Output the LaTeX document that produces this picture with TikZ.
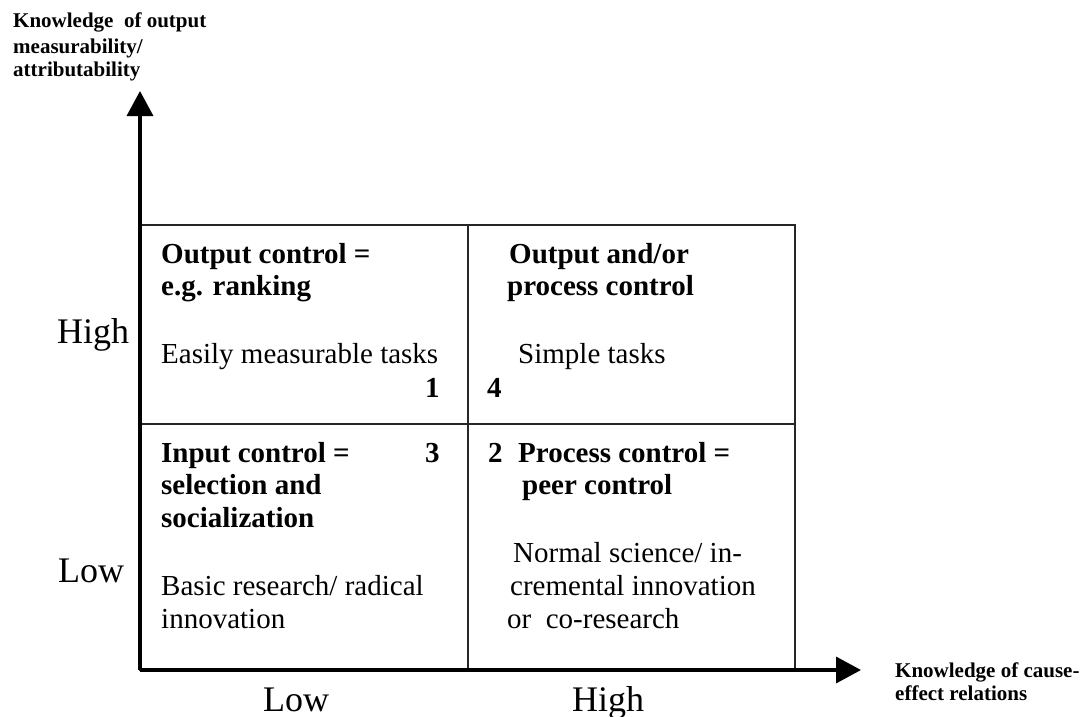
\documentclass[tikz,border=0pt]{standalone}
\usepackage{fontspec}
\setmainfont{Liberation Serif}
\usetikzlibrary{arrows.meta}
\begin{document}
\begin{tikzpicture}[x=1pt,y=-1pt,
  txt/.style={inner sep=0pt,anchor=base west},
  big/.style={txt,font=\fontsize{29}{32}\selectfont},
  bigb/.style={txt,font=\fontsize{29}{32}\selectfont\bfseries},
  axlab/.style={txt,font=\fontsize{36}{40}\selectfont},
  ttl/.style={txt,font=\fontsize{21}{24}\selectfont\bfseries},
  grid/.style={line width=1.3pt,black!85},
  axis/.style={line width=3.5pt,-{Triangle[length=25pt,width=26pt]}}]
\useasboundingbox (0,0) rectangle (1089,717);
% grid
\coordinate (tl) at (140,225);
\coordinate (br) at (795,670);
\coordinate (mt) at (468,225);
\coordinate (mb) at (468,670);
\coordinate (ml) at (140,424);
\coordinate (mr) at (795,424);
\draw[grid] (tl) rectangle (br);
\draw[grid] (mt) -- (mb);
\draw[grid] (ml) -- (mr);
% axes
\coordinate (o) at (140,670);
\coordinate (ytip) at (140,91);
\coordinate (xtip) at (861,670);
\draw[axis] (o) -- (ytip);
\draw[axis] (o) -- (xtip);
% axis titles
\node[ttl] (yt1) at (13,28) {Knowledge\ \ of output};
\node[ttl] (yt2) at (13,53) {measurability/};
\node[ttl] (yt3) at (13,77) {attributability};
\node[ttl] (xt1) at (895,677) {Knowledge of cause-};
\node[ttl] (xt2) at (895,700) {effect relations};
% axis value labels
\node[axlab] (yhigh) at (57,343) {High};
\node[axlab] (ylow) at (58,582) {Low};
\node[axlab] (xlow) at (263,711) {Low};
\node[axlab] (xhigh) at (572,711) {High};
% quadrant 1
\node[bigb] (q1a) at (161,263) {Output control =};
\node[bigb] (q1b) at (161,295) {e.g. ranking};
\node[big] (q1c) at (161,363) {Easily measurable tasks};
\node[bigb] (q1n) at (425,397) {1};
% quadrant 4
\node[bigb] (q4a) at (509,263) {Output and/or};
\node[bigb] (q4b) at (507,295) {process control};
\node[big] (q4c) at (518,363) {Simple tasks};
\node[bigb] (q4n) at (487,397) {4};
% quadrant 3
\node[bigb] (q3a) at (161,462) {Input control =};
\node[bigb] (q3n) at (425,462) {3};
\node[bigb] (q3b) at (161,494) {selection and};
\node[bigb] (q3c) at (161,527) {socialization};
\node[big] (q3d) at (161,595) {Basic research/ radical};
\node[big] (q3e) at (161,628) {innovation};
% quadrant 2
\node[bigb] (q2n) at (488,462) {2};
\node[bigb] (q2a) at (518,462) {Process control =};
\node[bigb] (q2b) at (522,494) {peer control};
\node[big] (q2c) at (513,562) {Normal science/ in-};
\node[big] (q2d) at (510,595) {cremental innovation};
\node[big] (q2e) at (507,628) {or\ \ co-research};
\end{tikzpicture}
\end{document}
